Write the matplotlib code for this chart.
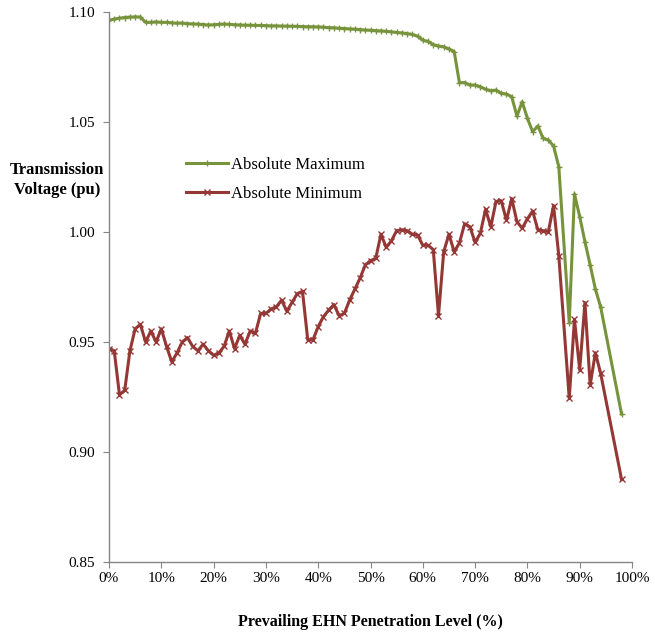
import numpy as np
import matplotlib.pyplot as plt
from matplotlib.ticker import FuncFormatter

# penetration level (%), shared by both series
penetration = list(range(0, 87)) + [88, 89, 90, 91, 92, 93, 94, 98]

abs_max = [
    1.0962, 1.0968, 1.0972, 1.0975, 1.0977, 1.0978, 1.0977, 1.0953, 1.0953, 1.0955,
    1.0953, 1.0953, 1.0951, 1.0949, 1.0950, 1.0947, 1.0946, 1.0945, 1.0943, 1.0941,
    1.0942, 1.0944, 1.0945, 1.0944, 1.0942, 1.0941, 1.0940, 1.0940, 1.0939, 1.0939,
    1.0938, 1.0937, 1.0937, 1.0936, 1.0936, 1.0935, 1.0935, 1.0934, 1.0933, 1.0933,
    1.0932, 1.0931, 1.0929, 1.0928, 1.0926, 1.0925, 1.0923, 1.0922, 1.0920, 1.0918,
    1.0917, 1.0915, 1.0914, 1.0912, 1.0910, 1.0907, 1.0905, 1.0902, 1.0898, 1.0890,
    1.0872, 1.0866, 1.0852, 1.0845, 1.0842, 1.0832, 1.0820, 1.0679, 1.0679, 1.0668,
    1.0668, 1.0660, 1.0649, 1.0642, 1.0645, 1.0630, 1.0627, 1.0615, 1.0527, 1.0592,
    1.0517, 1.0456, 1.0482, 1.0426, 1.0418, 1.0391, 1.0297,
    0.9588, 1.0173, 1.0070, 0.9956, 0.9850, 0.9740, 0.9660, 0.9173,
]

abs_min = [
    0.947, 0.946, 0.926, 0.928, 0.946, 0.956, 0.958, 0.950, 0.955, 0.950,
    0.956, 0.948, 0.941, 0.945, 0.950, 0.952, 0.948, 0.946, 0.949, 0.946,
    0.944, 0.945, 0.948, 0.955, 0.947, 0.953, 0.949, 0.955, 0.954, 0.963,
    0.963, 0.965, 0.966, 0.969, 0.964, 0.968, 0.972, 0.973, 0.951, 0.951,
    0.957, 0.9615, 0.9645, 0.967, 0.962, 0.963, 0.969, 0.974, 0.979, 0.985,
    0.987, 0.988, 0.999, 0.993, 0.996, 1.0006, 1.001, 1.0006, 0.999, 0.9986,
    0.994, 0.994, 0.992, 0.962, 0.991, 0.999, 0.991, 0.995, 1.0037, 1.0024,
    0.9953, 0.9994, 1.0103, 1.0024, 1.0139, 1.0142, 1.0053, 1.0152, 1.0047, 1.0017,
    1.0060, 1.0095, 1.0010, 1.0006, 1.0001, 1.0120, 0.9893,
    0.9244, 0.9603, 0.9373, 0.9679, 0.9305, 0.9451, 0.9358, 0.8876,
]

x_ticks = np.arange(0, 101, 10)
y_ticks = [0.85, 0.90, 0.95, 1.00, 1.05, 1.10]

green = "#77933C"
red = "#953735"
axis_grey = "#868686"

plt.rcParams["font.family"] = ["Liberation Serif", "DejaVu Serif"]

fig = plt.figure(figsize=(6.55, 6.35), dpi=100)
ax = fig.add_axes([109 / 655, 73 / 635, 523 / 655, 550 / 635])

ax.plot(penetration, abs_max, color=green, lw=2.2, marker="+", ms=5, mew=1.0,
        label="Absolute Maximum")
ax.plot(penetration, abs_min, color=red, lw=2.2, marker="x", ms=4, mew=1.0,
        label="Absolute Minimum")

ax.set_xlim(0, 100)
ax.set_ylim(0.85, 1.10)
ax.set_xticks(x_ticks)
ax.set_yticks(y_ticks)
ax.xaxis.set_major_formatter(FuncFormatter(lambda v, _: f"{v:.0f}%"))
ax.yaxis.set_major_formatter(FuncFormatter(lambda v, _: f"{v:.2f}"))

for side in ["top", "right"]:
    ax.spines[side].set_visible(False)
for side in ["left", "bottom"]:
    ax.spines[side].set_color(axis_grey)
    ax.spines[side].set_linewidth(1.0)

ax.tick_params(axis="both", direction="out", length=4, color=axis_grey,
               labelsize=11, pad=6)
ax.tick_params(axis="x", pad=3)

ax.set_xlabel("Prevailing EHN Penetration Level (%)", fontsize=11.5,
              fontweight="bold", labelpad=21)
fig.text(57 / 655, 1 - 180 / 635, "Transmission\nVoltage (pu)", ha="center",
         va="center", fontsize=12, fontweight="bold", linespacing=1.3)

ax.legend(loc="upper left", bbox_to_anchor=(0.135, 0.748), frameon=False,
          fontsize=12, handlelength=2.5, handletextpad=0.2, labelspacing=0.75,
          borderaxespad=0)

fig.savefig("out.png", dpi=100)
